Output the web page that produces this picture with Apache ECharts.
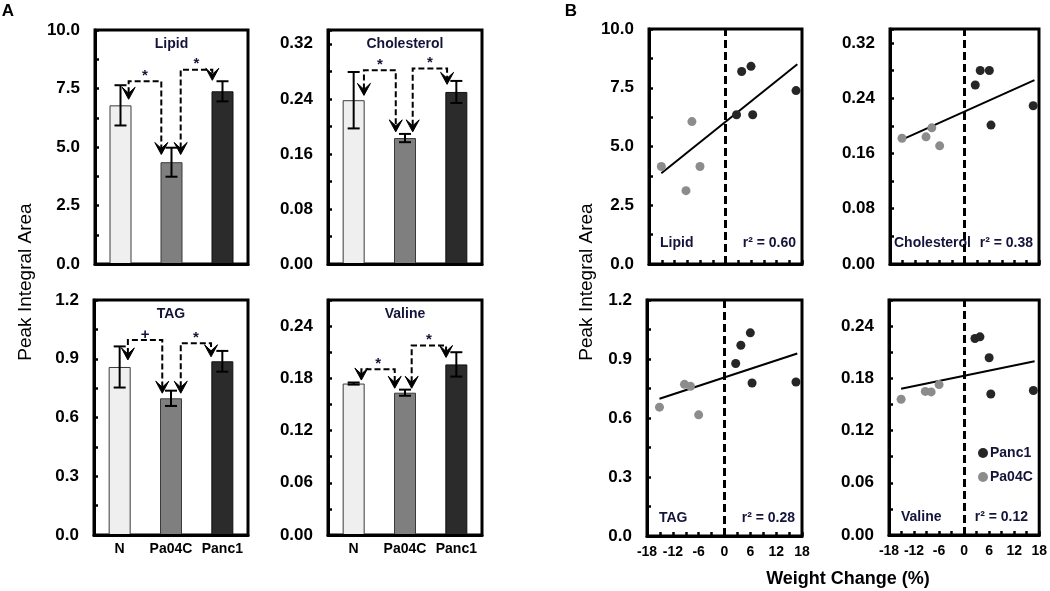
<!DOCTYPE html>
<html>
<head>
<meta charset="utf-8">
<script src="https://cdn.jsdelivr.net/npm/echarts@6/dist/echarts.min.js"></script>
<style>
html,body{margin:0;padding:0;background:#fff;}
#chart{width:1050px;height:591px;}
</style>
</head>
<body>
<div id="chart"></div>
<script>
// ---------------- DATA ----------------
const categories = ['N', 'Pa04C', 'Panc1'];
const panelNames = ['Lipid', 'Cholesterol', 'TAG', 'Valine'];

// Panel A: bar means and error (+/-)
const lipidMean = [6.78, 4.35, 7.38];
const lipidErr  = [0.86, 0.62, 0.43];
const cholMean  = [0.238, 0.183, 0.250];
const cholErr   = [0.041, 0.006, 0.016];
const tagMean   = [0.858, 0.698, 0.887];
const tagErr    = [0.105, 0.039, 0.053];
const valMean   = [0.174, 0.1635, 0.196];
const valErr    = [0.0012, 0.0035, 0.014];

// Significance brackets: [fromCat, fromOffset, toCat, toOffset, topValue, leftTipValue, rightTipValue]
const lipidBrackets = [[0, 0.16, 1, -0.20, 7.81, 7.04, 4.68], [1, 0.18, 2, -0.20, 8.30, 4.68, 7.85]];
const cholBrackets  = [[0, 0.20, 1, -0.18, 0.2816, 0.245, 0.192], [1, 0.15, 2, -0.18, 0.284, 0.192, 0.261]];
const tagBrackets   = [[0, 0.16, 1, -0.17, 0.996, 0.894, 0.724], [1, 0.19, 2, -0.22, 0.979, 0.724, 0.910]];
const valBrackets   = [[0, 0.15, 1, -0.20, 0.1905, 0.178, 0.1686], [1, 0.13, 2, -0.20, 0.2176, 0.1686, 0.204]];
const lipidSig = ['*', '*'];
const cholSig  = ['*', '*'];
const tagSig   = ['+', '*'];
const valSig   = ['*', '*'];

// Panel B: weight change (%) and peak areas
const pa04cWeight = [-15.1, -9.3, -7.9, -6.0];
const panc1Weight = [2.6, 3.8, 6.0, 6.4, 16.6];
const lipidPa04c = [4.15, 3.12, 6.06, 4.15];
const lipidPanc1 = [6.35, 8.19, 8.41, 6.35, 7.38];
const cholPa04c  = [0.182, 0.184, 0.197, 0.171];
const cholPanc1  = [0.259, 0.280, 0.280, 0.201, 0.229];
const tagPa04c   = [0.655, 0.771, 0.761, 0.616];
const tagPanc1   = [0.877, 0.970, 1.033, 0.778, 0.783];
const valPa04c   = [0.156, 0.165, 0.1644, 0.1728];
const valPanc1   = [0.2258, 0.2277, 0.2036, 0.162, 0.166];
// Regression line end points
const fitX     = [-15.1, 16.9];
const lipidFit = [3.86, 8.50];
const cholFit  = [0.180, 0.266];
const tagFit   = [0.698, 0.928];
const valFit   = [0.168, 0.1997];
const r2Labels = ['0.60', '0.38', '0.28', '0.12'];

// Axis settings
const yMax      = [10, 0.34, 1.2, 0.27];
const yTick     = [1.25, 0.04, 0.15, 0.03];
const yLabStep  = [2.5, 0.08, 0.3, 0.06];
const yDecimals = [1, 2, 1, 2];
const xWeightMin = -18, xWeightMax = 18, xWeightTick = 3, xWeightLabStep = 6;

// ---------------- LAYOUT ----------------
const FONT = '"Liberation Sans", Arial, sans-serif';
const boxes = [
  {left: 95,  top: 30,  width: 153, height: 234},
  {left: 328, top: 30,  width: 154, height: 234},
  {left: 94,  top: 300, width: 154, height: 235},
  {left: 328, top: 300, width: 154, height: 235},
  {left: 649, top: 29,  width: 153, height: 235},
  {left: 890, top: 29,  width: 149, height: 235},
  {left: 647, top: 300, width: 155, height: 236},
  {left: 889, top: 300, width: 151, height: 235}
];
const barColors = ['#efefef', '#7f7f7f', '#2b2b2b'];
const barBorders = ['#3a3a3a', '#3a3a3a', '#111111'];
const colPanc1 = '#262626', colPa04c = '#8c8c8c';

const means = [lipidMean, cholMean, tagMean, valMean];
const errs = [lipidErr, cholErr, tagErr, valErr];
const brackets = [lipidBrackets, cholBrackets, tagBrackets, valBrackets];
const sigs = [lipidSig, cholSig, tagSig, valSig];
const pa04cY = [lipidPa04c, cholPa04c, tagPa04c, valPa04c];
const panc1Y = [lipidPanc1, cholPanc1, tagPanc1, valPanc1];
const fits = [lipidFit, cholFit, tagFit, valFit];

function stepFmt(step, dec) {
  return function (v) {
    const r = v / step;
    return Math.abs(r - Math.round(r)) < 1e-6 ? Number(v).toFixed(dec) : '';
  };
}

const grid = boxes.map(b => Object.assign({show: true, borderColor: '#000', borderWidth: 3, backgroundColor: 'transparent'}, b));
const xAxis = [], yAxis = [], series = [];

function yAxisFor(gi, p) {
  return {
    type: 'value', gridIndex: gi, min: 0, max: yMax[p], interval: yTick[p], z: 5,
    axisLine: {show: true, onZero: false, lineStyle: {color: '#000', width: 3}},
    axisTick: {show: true, inside: true, length: 4, lineStyle: {color: '#000', width: 2.5}},
    axisLabel: {show: true, margin: 15, color: '#000', fontFamily: FONT, fontWeight: 'bold', fontSize: 17,
      formatter: stepFmt(yLabStep[p], yDecimals[p]), showMaxLabel: true, hideOverlap: false},
    splitLine: {show: false}
  };
}

// Panel A
for (let p = 0; p < 4; p++) {
  const gi = p;
  const bottomRow = p >= 2;
  xAxis.push({
    type: 'category', gridIndex: gi, data: categories, boundaryGap: true, z: 5,
    axisLine: {show: true, lineStyle: {color: '#000', width: 3}},
    axisTick: {show: false},
    axisLabel: {show: bottomRow, interval: 0, hideOverlap: false, margin: 7, color: '#000', fontFamily: FONT, fontWeight: 'bold', fontSize: 14}
  });
  yAxis.push(yAxisFor(gi, p));
  series.push({
    type: 'bar', name: panelNames[p] + ' bars', xAxisIndex: gi, yAxisIndex: gi, barWidth: 22, silent: true,
    data: means[p].map((m, i) => ({value: m, itemStyle: {color: barColors[i], borderColor: barBorders[i], borderWidth: 1}}))
  });
  const mArr = means[p], eArr = errs[p];
  series.push({
    type: 'custom', name: panelNames[p] + ' err', xAxisIndex: gi, yAxisIndex: gi, z: 6, silent: true,
    data: mArr.map((m, i) => [i, m]),
    renderItem: function (params, api) {
      const i = params.dataIndex;
      const top = api.coord([i, mArr[i] + eArr[i]]);
      const bot = api.coord([i, mArr[i] - eArr[i]]);
      const hw = 6;
      const st = {stroke: '#000', lineWidth: 2};
      return {type: 'group', children: [
        {type: 'line', shape: {x1: top[0], y1: top[1], x2: bot[0], y2: bot[1]}, style: st},
        {type: 'line', shape: {x1: top[0] - hw, y1: top[1], x2: top[0] + hw, y2: top[1]}, style: st},
        {type: 'line', shape: {x1: bot[0] - hw, y1: bot[1], x2: bot[0] + hw, y2: bot[1]}, style: st}
      ]};
    }
  });
  const brk = brackets[p], sg = sigs[p];
  series.push({
    type: 'custom', name: panelNames[p] + ' sig', xAxisIndex: gi, yAxisIndex: gi, z: 7, silent: true,
    data: brk.map(b => [b[0], b[4]]),
    renderItem: function (params, api) {
      const b = brk[params.dataIndex];
      const bw = api.size([1, 0])[0];
      const xL = api.coord([b[0], 0])[0] + b[1] * bw;
      const xR = api.coord([b[2], 0])[0] + b[3] * bw;
      const yT = api.coord([0, b[4]])[1];
      const yL = api.coord([0, b[5]])[1];
      const yR = api.coord([0, b[6]])[1];
      const ah = 12, aw = 6.5, notch = 6;
      const arrow = (x, y) => ({type: 'polygon', shape: {points: [[x, y], [x - aw, y - ah], [x, y - notch], [x + aw, y - ah]]},
        style: {fill: '#000', stroke: '#000', lineWidth: 1}});
      return {type: 'group', children: [
        {type: 'polyline', shape: {points: [[xL, yL - notch], [xL, yT], [xR, yT], [xR, yR - notch]]},
          style: {stroke: '#000', lineWidth: 2, lineDash: [6, 3], fill: null}},
        arrow(xL, yL), arrow(xR, yR),
        {type: 'text', style: {text: sg[params.dataIndex], x: (xL + xR) / 2, y: yT + 2, align: 'center', verticalAlign: 'bottom',
          font: 'bold 15px ' + FONT, fill: '#14143a'}}
      ]};
    }
  });
}

// Panel B
for (let p = 0; p < 4; p++) {
  const gi = 4 + p;
  const bottomRow = p >= 2;
  xAxis.push({
    type: 'value', gridIndex: gi, min: xWeightMin, max: xWeightMax, interval: xWeightTick, z: 5,
    axisLine: {show: true, onZero: false, lineStyle: {color: '#000', width: 3}},
    axisTick: {show: true, inside: true, length: 4, lineStyle: {color: '#000', width: 2.5}},
    axisLabel: {show: bottomRow, margin: 9, color: '#000', fontFamily: FONT, fontWeight: 'bold', fontSize: 14,
      formatter: stepFmt(xWeightLabStep, 0), hideOverlap: false},
    splitLine: {show: false}
  });
  yAxis.push(yAxisFor(gi, p));
  series.push({
    type: 'line', name: panelNames[p] + ' fit', xAxisIndex: gi, yAxisIndex: gi, z: 3, silent: true,
    symbol: 'none', lineStyle: {color: '#000', width: 2},
    data: fitX.map((x, i) => [x, fits[p][i]]),
    markLine: {silent: true, symbol: 'none', label: {show: false},
      lineStyle: {color: '#000', width: 3, type: [8, 4]}, data: [{xAxis: 0}]}
  });
  series.push({
    type: 'scatter', name: 'Pa04C', xAxisIndex: gi, yAxisIndex: gi, z: 4, symbolSize: 9,
    itemStyle: {color: colPa04c, opacity: 1},
    data: pa04cWeight.map((x, i) => [x, pa04cY[p][i]])
  });
  series.push({
    type: 'scatter', name: 'Panc1', xAxisIndex: gi, yAxisIndex: gi, z: 4, symbolSize: 9,
    itemStyle: {color: colPanc1, opacity: 1},
    data: panc1Weight.map((x, i) => [x, panc1Y[p][i]])
  });
}

// Text annotations
const graphic = [];
function txt(text, x, y, size, weight, align, extra) {
  return Object.assign({type: 'text', x: x, y: y, silent: true, style: {text: text, font: weight + ' ' + size + 'px ' + FONT,
    fill: '#000', align: align || 'center', verticalAlign: 'middle'}}, extra || {});
}
graphic.push(txt('A', 8, 11, 17, 'bold'));
graphic.push(txt('B', 571, 11, 17, 'bold'));
graphic.push(txt('Peak Integral Area', 26, 282, 19, 'normal', 'center', {rotation: Math.PI / 2}));
graphic.push(txt('Peak Integral Area', 587, 282, 19, 'normal', 'center', {rotation: Math.PI / 2}));
graphic.push(txt('Weight Change (%)', 848, 579, 18, 'bold'));
for (let p = 0; p < 4; p++) {
  const b = boxes[p];
  const t = txt(panelNames[p], b.left + b.width / 2, b.top + 14, 14, 'bold');
  t.style.fill = '#14143a';
  graphic.push(t);
}
const nameOffset = [11, 4, 12, 12];
const r2Offset = [6, 6, 7, 12];
for (let p = 0; p < 4; p++) {
  const b = boxes[4 + p];
  const yy = b.top + b.height - (p < 2 ? 21 : 18);
  const t1 = txt(panelNames[p], b.left + nameOffset[p], yy, 14, 'bold', 'left');
  t1.style.fill = '#14143a';
  graphic.push(t1);
  const t2 = txt('r\u00b2 = ' + r2Labels[p], b.left + b.width - r2Offset[p], yy, 14, 'bold', 'right');
  t2.style.fill = '#14143a';
  graphic.push(t2);
}

const option = {
  animation: false,
  backgroundColor: '#fff',
  grid: grid,
  xAxis: xAxis,
  yAxis: yAxis,
  series: series,
  graphic: graphic,
  legend: {
    data: ['Panc1', 'Pa04C'], orient: 'vertical', left: 978, top: 446, padding: 0,
    itemWidth: 10, itemHeight: 10, itemGap: 10, icon: 'circle',
    textStyle: {fontFamily: FONT, fontWeight: 'bold', fontSize: 14, color: '#14143a', padding: [0, 0, 0, -3]}
  }
};

const chart = echarts.init(document.getElementById('chart'), null, {renderer: 'canvas'});
chart.setOption(option);
</script>
</body>
</html>
